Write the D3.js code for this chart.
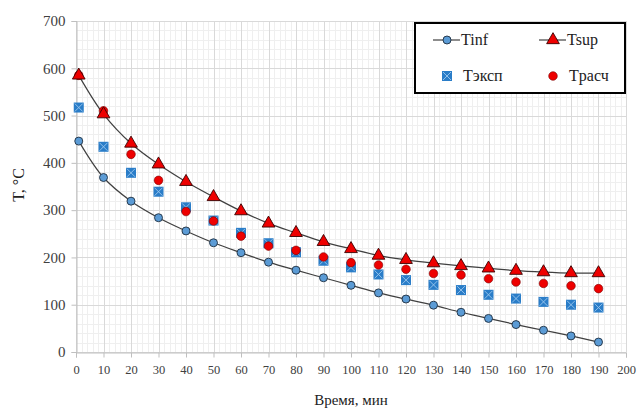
<!DOCTYPE html>
<html><head><meta charset="utf-8">
<script src="https://cdn.jsdelivr.net/npm/d3@7"></script>
<style>body{margin:0;background:#fff}svg{display:block}
svg text{font-family:"Tinos","Liberation Serif","Times New Roman",serif !important;}
</style>
</head><body>
<svg id="c" width="638" height="410"></svg>
<script>
const times = [1,10,20,30,40,50,60,70,80,90,100,110,120,130,140,150,160,170,180,190];
const tInf  = [446,369,319,284,256,231,210,190,173,157,141,125,112,99,84,71,58,46,34,21];
const tSup  = [585,503,441,397,360,328,298,272,252,233,218,204,195,188,182,177,172,169,167,167];
const tExp  = [517,434,379,339,306,278,252,230,211,193,179,164,152,142,131,121,113,106,100,94];
const tCalc = [585,510,418,363,297,277,245,224,215,201,189,184,175,166,163,155,148,145,140,134];
const xTicks = d3.range(0,201,10);
const yTicks = d3.range(0,701,100);
const seriesNames = ["Tinf","Tsup","Tэксп","Tрасч"];

const svg = d3.select("#c");
const x = d3.scaleLinear().domain([0,200]).range([76,626]);
const y = d3.scaleLinear().domain([0,700]).range([352,21]);

// minor grid
const g = svg.append("g");
g.selectAll(".mx").data(d3.range(0,201,2).filter(v=>v%10)).enter().append("line")
 .attr("x1",d=>Math.round(x(d))+0.5).attr("x2",d=>Math.round(x(d))+0.5).attr("y1",y(0)).attr("y2",y(700))
 .attr("stroke","#efefef");
g.selectAll(".my").data(d3.range(0,701,20).filter(v=>v%100)).enter().append("line")
 .attr("y1",d=>Math.round(y(d))+0.5).attr("y2",d=>Math.round(y(d))+0.5).attr("x1",x(0)).attr("x2",x(200))
 .attr("stroke","#efefef");
// major grid
g.selectAll(".Mx").data(xTicks).enter().append("line")
 .attr("x1",d=>Math.round(x(d))+0.5).attr("x2",d=>Math.round(x(d))+0.5).attr("y1",y(0)).attr("y2",y(700))
 .attr("stroke","#d9d9d9");
g.selectAll(".My").data(yTicks).enter().append("line")
 .attr("y1",d=>Math.round(y(d))+0.5).attr("y2",d=>Math.round(y(d))+0.5).attr("x1",x(0)).attr("x2",x(200))
 .attr("stroke","#d9d9d9");

// axes
const xa = svg.append("g").attr("transform",`translate(0,${Math.round(y(0))+0.5})`)
 .call(d3.axisBottom(x).tickValues(xTicks).tickSize(5).tickPadding(8));
const ya = svg.append("g").attr("transform",`translate(${Math.round(x(0))+0.5},0)`)
 .call(d3.axisLeft(y).tickValues(yTicks).tickSize(5).tickPadding(6));
[xa,ya].forEach(a=>{
  a.attr("font-family",null);
  a.select(".domain").attr("stroke","#bfbfbf");
  a.selectAll(".tick line").attr("stroke","#bfbfbf");
  a.selectAll("text").attr("fill","#404040");
});
xa.selectAll("text").attr("font-size",12.5);
ya.selectAll("text").attr("font-size",15);

svg.append("text").attr("x",351).attr("y",405).attr("text-anchor","middle")
 .attr("font-size",15).attr("fill","#222").text("Время, мин");
svg.append("text").attr("transform","translate(24,185) rotate(-90)").attr("text-anchor","middle")
 .attr("font-size",16).attr("fill","#222").text("T, °C");

// lines
const line = d3.line().curve(d3.curveCatmullRom.alpha(0.5));
[tInf,tSup].forEach(arr=>{
  svg.append("path").attr("d",line(times.map((t,i)=>[x(t),y(arr[i])])))
   .attr("fill","none").attr("stroke","#404040").attr("stroke-width",1.2);
});

const tri = d3.symbol().type(d3.symbolTriangle).size(70);
function drawExp(sel){
  sel.append("rect").attr("x",-5).attr("y",-5).attr("width",10).attr("height",10).attr("fill","#2a7dc8");
  sel.append("path").attr("d","M-4,-4L4,4M-4,4L4,-4").attr("stroke","#9cc7ee").attr("stroke-width",0.9);
}
function drawCalc(sel){ sel.append("circle").attr("r",4.3).attr("fill","#ee0000").attr("stroke","#7a0000").attr("stroke-width",0.6); }
function drawInf(sel){ sel.append("circle").attr("r",4).attr("fill","#5b9bd5").attr("stroke","#1f2f40").attr("stroke-width",0.9); }
function drawSup(sel){ sel.append("path").attr("d",tri).attr("fill","#ee0000").attr("stroke","#3a0000").attr("stroke-width",0.9); }

function points(arr, fn){
  svg.append("g").selectAll("g").data(times.map((t,i)=>[t,arr[i]])).enter().append("g")
   .attr("transform",d=>`translate(${x(d[0])},${y(d[1])})`).each(function(){ fn(d3.select(this)); });
}
points(tExp, drawExp);
points(tCalc, drawCalc);
points(tInf, drawInf);
points(tSup, drawSup);

// legend
const lg = svg.append("g");
lg.append("rect").attr("x",415).attr("y",23).attr("width",210).attr("height",70)
 .attr("fill","#fff").attr("stroke","#000").attr("stroke-width",2);
const items = [
  {name:seriesNames[0], lx:447, ly:40, fn:drawInf, ln:true},
  {name:seriesNames[1], lx:553, ly:40, fn:drawSup, ln:true},
  {name:seriesNames[2], lx:447, ly:76, fn:drawExp, ln:false},
  {name:seriesNames[3], lx:553, ly:76, fn:drawCalc, ln:false}
];
items.forEach(it=>{
  if(it.ln) lg.append("line").attr("x1",it.lx-14).attr("x2",it.lx+13).attr("y1",it.ly).attr("y2",it.ly)
    .attr("stroke","#404040").attr("stroke-width",1.2);
  const m = lg.append("g").attr("transform",`translate(${it.lx},${it.ly})`);
  it.fn(m);
  lg.append("text").attr("x",it.lx+(it.ln?14:16)).attr("y",it.ly+5)
   .attr("font-size",16).attr("fill","#222").text(it.name);
});
</script>
</body></html>
